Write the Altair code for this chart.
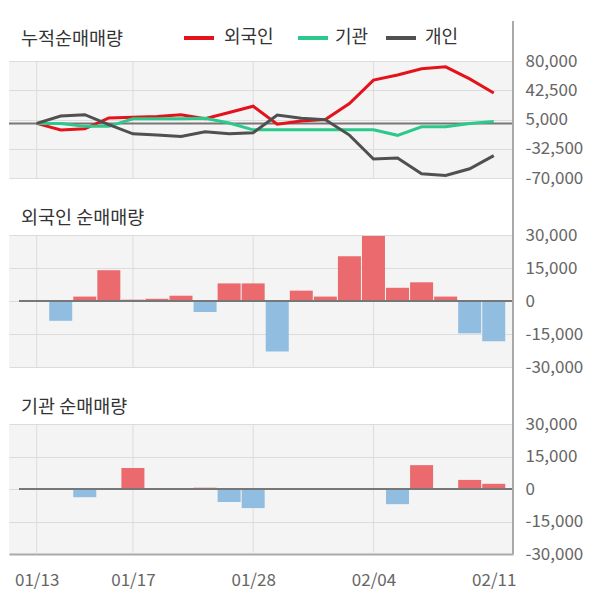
import json
import altair as alt
import pandas as pd

# ---------------- data ----------------
dates = ["01/13", "01/14", "01/15", "01/16", "01/17", "01/20", "01/21", "01/22", "01/23",
         "01/28", "01/29", "01/30", "01/31", "02/03", "02/04", "02/05", "02/06", "02/07",
         "02/10", "02/11"]
tick_dates = ["01/13", "01/17", "01/28", "02/04", "02/11"]
grid_dates = ["01/13", "01/17", "01/28", "02/04"]
series_names = ["외국인", "기관", "개인"]

cum_foreign = [0, -8500, -7000, 7000, 7800, 8800, 11000, 6000, 14000, 22000,
               -1000, 3000, 5000, 25500, 55500, 62000, 70000, 72500, 57000, 39000]
cum_inst = [0, 0, -3800, -3800, 5900, 5900, 5900, 6500, 500, -8300,
            -8300, -8300, -8300, -8300, -8300, -15300, -4300, -4300, -100, 2300]
cum_indiv = [0, 9500, 11200, -1500, -13400, -15000, -16800, -10800, -13400, -12000,
             10800, 6500, 4700, -15000, -45700, -44400, -64600, -66800, -58200, -41400]

net_foreign = [0, -9000, 2000, 14000, 600, 1000, 2400, -5000, 8000, 8000,
               -23000, 4700, 2000, 20300, 29500, 6000, 8500, 2000, -14700, -18300]
net_inst = [0, 0, -3800, 0, 9700, 0, 0, 600, -6000, -8800,
            0, 0, 0, 0, 0, -7000, 11000, 0, 4200, 2400]

panel_titles = ["누적순매매량", "외국인 순매매량", "기관 순매매량"]
cum_ticks = [80000, 42500, 5000, -32500, -70000]
net_ticks = [30000, 15000, 0, -15000, -30000]
cum_domain = [-70000, 80000]
net_domain = [-30000, 30000]

# ---------------- style ----------------
FONT = "Noto Sans CJK KR"
SERIES_COLORS = ["#e4131b", "#2bc98c", "#505050"]
BAR_RED, BAR_BLUE = "#ea6a6e", "#90bde0"
GRID = "#dcdcdc"
AXIS_LINE = "#a9a9a9"
ZERO = "#777777"
TXT = "#333333"
LBL = "#666666"
W = 504
H1, H2, H3 = 117, 132, 130
GAP = 57
XDOM = [-1.15, 19.8]
TICK_FS = 17
LEGEND_X = [175, 289, 377]   # left edge of each legend swatch (px, inside panel 1)
LEGEND_LABEL_DX = [40, 37, 39]
LEGEND_Y = -23

idx = list(range(len(dates)))
tick_idx = [dates.index(d) for d in tick_dates]
grid_idx = [dates.index(d) for d in grid_dates]
x_label_expr = json.dumps(dates) + "[datum.value]"
y_label_expr = "(datum.value < 0 ? '-' : '') + format(abs(datum.value), ',')"

xscale = alt.Scale(domain=XDOM, nice=False, zero=False, padding=0)


def y_axis(ticks):
    return alt.Axis(orient="right", values=ticks, labelExpr=y_label_expr, grid=True,
                    gridColor=GRID, gridWidth=1, ticks=False, domain=False,
                    labelPadding=12, labelFont=FONT, labelFontSize=TICK_FS,
                    labelColor=LBL, labelOverlap=False, labelFlush=False,
                    labelBound=False, title=None)


def common_layers(title, h, top_ext, title_y, xaxis):
    grid = alt.Chart(pd.DataFrame({"i": grid_idx})).mark_rule(
        color=GRID, strokeWidth=1).encode(x=alt.X("i:Q", scale=xscale, axis=xaxis))
    title_txt = alt.Chart(pd.DataFrame({"t": [title]})).mark_text(
        align="left", baseline="middle", font=FONT, fontSize=18.5, color=TXT
    ).encode(x=alt.value(12), y=alt.value(title_y), text="t:N")
    axis_line = alt.Chart(pd.DataFrame({"t": [title]})).mark_rule(
        color=AXIS_LINE, strokeWidth=2
    ).encode(x=alt.value(W), y=alt.value(-top_ext), y2=alt.value(h))
    return grid, title_txt, axis_line


# ---------------- panel 1 : cumulative lines ----------------
rows = []
for name, vals in zip(series_names, [cum_foreign, cum_inst, cum_indiv]):
    for i, v in zip(idx, vals):
        rows.append({"i": i, "s": name, "v": v})
df_cum = pd.DataFrame(rows)

yscale1 = alt.Scale(domain=cum_domain, nice=False, zero=False, padding=0)
g1, t1, a1 = common_layers(panel_titles[0], H1, 40, -22, None)
lines = alt.Chart(df_cum).mark_line(strokeWidth=3).encode(
    x=alt.X("i:Q", scale=xscale, axis=None),
    y=alt.Y("v:Q", scale=yscale1, axis=y_axis(cum_ticks)),
    color=alt.Color("s:N", scale=alt.Scale(domain=series_names, range=SERIES_COLORS),
                    legend=None),
)
zero1 = alt.Chart(pd.DataFrame({"v": [0]})).mark_rule(color=ZERO, strokeWidth=2).encode(
    y=alt.Y("v:Q", scale=yscale1, axis=y_axis(cum_ticks)), x=alt.value(0), x2=alt.value(W))

legend_layers = []
for name, col, lx, ldx in zip(series_names, SERIES_COLORS, LEGEND_X, LEGEND_LABEL_DX):
    one = pd.DataFrame({"s": [name]})
    legend_layers.append(alt.Chart(one).mark_rule(color=col, strokeWidth=4).encode(
        x=alt.value(lx), x2=alt.value(lx + 30), y=alt.value(LEGEND_Y)))
    legend_layers.append(alt.Chart(one).mark_text(
        align="left", baseline="middle", font=FONT, fontSize=18, color=TXT).encode(
        x=alt.value(lx + ldx), y=alt.value(LEGEND_Y), text="s:N"))

panel1 = alt.layer(g1, zero1, lines, t1, a1, *legend_layers).properties(width=W, height=H1)


# ---------------- bar panels ----------------
def bar_panel(title, values, h, show_x):
    yscale = alt.Scale(domain=net_domain, nice=False, zero=False, padding=0)
    if show_x:
        xaxis = alt.Axis(values=tick_idx, labelExpr=x_label_expr, grid=False, ticks=False,
                         domain=True, domainColor=AXIS_LINE, domainWidth=2,
                         labelPadding=18, labelFont=FONT, labelFontSize=TICK_FS,
                         labelColor=LBL, labelFlush=False, labelOverlap=False,
                         labelBound=False, title=None)
    else:
        xaxis = None
    g, t, a = common_layers(title, h, GAP, -17, xaxis)
    df = pd.DataFrame({"i": idx, "v": values})
    bars = alt.Chart(df).mark_bar(size=23).encode(
        x=alt.X("i:Q", scale=xscale, axis=xaxis),
        y=alt.Y("v:Q", scale=yscale, axis=y_axis(net_ticks)),
        color=alt.condition("datum.v > 0", alt.value(BAR_RED), alt.value(BAR_BLUE)),
    )
    zero = alt.Chart(pd.DataFrame({"v": [0]})).mark_rule(color=ZERO, strokeWidth=2).encode(
        y=alt.Y("v:Q", scale=yscale, axis=y_axis(net_ticks)), x=alt.value(10), x2=alt.value(W))
    return alt.layer(g, bars, zero, t, a).properties(width=W, height=h)


panel2 = bar_panel(panel_titles[1], net_foreign, H2, False)
panel3 = bar_panel(panel_titles[2], net_inst, H3, True)

chart = alt.vconcat(panel1, panel2, panel3, spacing=GAP, bounds="flush").properties(
    padding={"left": 0, "top": 12, "right": 5, "bottom": 5}
).configure(font=FONT, background="white").configure_view(fill="#f4f4f4", stroke=None)

chart.save("out.html", embed_options={"renderer": "svg", "actions": False})
